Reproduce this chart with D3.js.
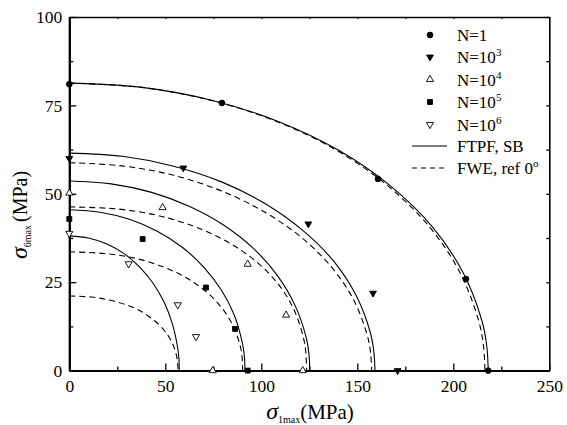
<!DOCTYPE html>
<html>
<head>
<meta charset="utf-8">
<script src="https://cdn.jsdelivr.net/npm/d3@7"></script>
<style>
  html, body { margin: 0; padding: 0; background: #fff; }
  svg { display: block; font-family: "Liberation Serif", "Times New Roman", serif; }
</style>
</head>
<body>
<svg id="chart" width="567" height="425"></svg>
<script>
// ---------- axis ticks ----------
const xTicks = [0, 50, 100, 150, 200, 250];
const xMinor = [25, 75, 125, 175, 225];
const yTicks = [0, 25, 50, 75, 100];
const yMinor = [12.5, 37.5, 62.5, 87.5];
const yRightTicks = [0, 12.5, 25, 37.5, 50, 62.5, 75, 87.5, 100];

// ---------- measured points (sigma_1max, sigma_6max) in MPa ----------
const ptsN1   = [[0, 81.0], [79.5, 75.7], [160.8, 54.2], [206.6, 25.9], [218.2, 0]];
const ptsN1e3 = [[0, 60.0], [59.4, 57.3], [124.5, 41.5], [158.2, 21.9], [171, 0]];
const ptsN1e4 = [[0, 50.2], [48.6, 46.1], [92.9, 30.1], [112.9, 15.7], [74.7, 0], [121.6, 0]];
const ptsN1e5 = [[0, 42.9], [38.2, 37.2], [71.2, 23.5], [86.3, 11.8], [92.9, 0]];
const ptsN1e6 = [[0, 38.8], [30.9, 30.2], [56.5, 18.6], [66.0, 9.6]];

// ---------- FTPF, SB criterion curves ----------
const ftpf1 = [[0, 81.3], [37.9, 80.1], [74.6, 76.4], [109.1, 70.4], [140.3, 62.3], [167.1, 52.3],
               [189.0, 40.7], [205.0, 27.8], [214.9, 14.1], [217.4, 7.1], [218.2, 0]];
const ftpf2 = [[0, 61.5], [27.6, 60.6], [54.4, 57.8], [79.6, 53.3], [102.3, 47.1], [121.9, 39.5],
               [137.9, 30.8], [149.6, 21.0], [156.8, 10.7], [158.6, 5.4], [159.2, 0]];
const ftpf3 = [[0, 53.6], [21.8, 52.8], [42.9, 50.4], [62.7, 46.4], [80.5, 41.1], [96.0, 34.5],
               [108.5, 26.8], [117.7, 18.3], [123.4, 9.3], [124.8, 4.7], [125.3, 0]];
const ftpf4 = [[0, 45.5], [15.9, 44.8], [31.3, 42.8], [45.8, 39.4], [58.8, 34.9], [70.1, 29.2],
               [79.2, 22.8], [86.0, 15.6], [90.1, 7.9], [91.2, 4.0], [91.5, 0]];
const ftpf5 = [[0, 38.1], [9.9, 37.5], [19.6, 35.8], [28.7, 33.0], [36.8, 29.2], [43.9, 24.5],
               [49.6, 19.1], [53.8, 13.0], [56.4, 6.6], [57.1, 3.3], [57.3, 0]];

// ---------- FWE (reference 0 deg) curves ----------
const fwe1 = [[0, 81.3], [37.6, 80.1], [74.0, 76.4], [108.3, 70.4], [139.2, 62.3], [165.8, 52.3],
              [187.5, 40.7], [203.4, 27.8], [213.2, 14.1], [215.7, 7.1], [216.5, 0]];
const fwe2 = [[0, 58.8], [27.3, 57.9], [53.9, 55.3], [78.8, 50.9], [101.2, 45.0], [120.6, 37.8],
              [136.4, 29.4], [148.0, 20.1], [155.1, 10.2], [156.9, 5.1], [157.5, 0]];
const fwe3 = [[0, 46.3], [25.2, 45.7], [46.6, 43.8], [65.8, 40.6], [82.7, 36.3], [97.0, 31.0],
              [108.5, 24.7], [116.8, 17.5], [121.9, 9.4], [123.2, 5.0], [123.6, 0]];
const fwe4 = [[0, 33.6], [18.4, 33.1], [34.1, 31.8], [48.1, 29.5], [60.4, 26.4], [70.9, 22.5],
              [79.2, 17.9], [85.3, 12.7], [89.1, 6.8], [90.0, 3.7], [90.3, 0]];
const fwe5 = [[0, 21.1], [11.5, 20.8], [21.3, 19.9], [30.1, 18.5], [37.9, 16.6], [44.4, 14.1],
              [49.7, 11.2], [53.5, 8.0], [55.8, 4.3], [56.4, 2.3], [56.6, 0]];

const ftpfCurves = [ftpf1, ftpf2, ftpf3, ftpf4, ftpf5];
const fweCurves  = [fwe1, fwe2, fwe3, fwe4, fwe5];

// ---------- layout ----------
const svg = d3.select("#chart");
const X0 = 69.3, X1 = 549.3, Y0 = 370.6, Y1 = 17;
const x = d3.scaleLinear().domain([0, 250]).range([X0, X1]);
const y = d3.scaleLinear().domain([0, 100]).range([Y0, Y1]);

const FONT = '"Liberation Serif", "Times New Roman", serif';

function styleAxis(g, width) {
  g.attr("font-family", FONT).attr("font-size", 17.5);
  g.selectAll(".domain").attr("stroke", "#000").attr("stroke-width", width);
  g.selectAll(".tick line").attr("stroke", "#000").attr("stroke-width", 1.3);
  g.selectAll(".tick text").attr("fill", "#000");
}

// bottom axis
svg.append("g").attr("transform", `translate(0,${Y0})`)
  .call(d3.axisBottom(x).tickValues(xTicks).tickSizeInner(-7).tickSizeOuter(0).tickPadding(9))
  .call(g => styleAxis(g, 2));
svg.append("g").attr("transform", `translate(0,${Y0})`)
  .call(d3.axisBottom(x).tickValues(xMinor).tickSizeInner(-4).tickSizeOuter(0).tickFormat(""))
  .call(g => styleAxis(g, 2));

// left axis
svg.append("g").attr("transform", `translate(${X0},0)`)
  .call(d3.axisLeft(y).tickValues(yTicks).tickSizeInner(-7).tickSizeOuter(0).tickPadding(7))
  .call(g => styleAxis(g, 2));
svg.append("g").attr("transform", `translate(${X0},0)`)
  .call(d3.axisLeft(y).tickValues(yMinor).tickSizeInner(-4).tickSizeOuter(0).tickFormat(""))
  .call(g => styleAxis(g, 2));

// right and top frame
svg.append("g").attr("transform", `translate(${X1},0)`)
  .call(d3.axisRight(y).tickValues(yRightTicks).tickSizeInner(-3).tickSizeOuter(0).tickFormat(""))
  .call(g => styleAxis(g, 1.6));
svg.append("g").attr("transform", `translate(0,${Y1})`)
  .call(d3.axisTop(x).tickValues(xMinor.concat(xTicks)).tickSizeInner(-2).tickSizeOuter(0).tickFormat(""))
  .call(g => styleAxis(g, 1.4));

// ---------- curves ----------
const line = d3.line().x(d => x(d[0])).y(d => y(d[1])).curve(d3.curveCatmullRom.alpha(0.5));

svg.append("g").selectAll("path.ftpf").data(ftpfCurves).join("path")
  .attr("class", "ftpf").attr("d", line)
  .attr("fill", "none").attr("stroke", "#000").attr("stroke-width", 1.1);

svg.append("g").selectAll("path.fwe").data(fweCurves).join("path")
  .attr("class", "fwe").attr("d", line)
  .attr("fill", "none").attr("stroke", "#000").attr("stroke-width", 1.1)
  .attr("stroke-dasharray", "6,4");

// ---------- markers ----------
const seriesStyles = [
  { pts: ptsN1,   type: d3.symbolCircle,   size: 26, rot: 0,   fill: "#000" },
  { pts: ptsN1e3, type: d3.symbolTriangle, size: 20, rot: 180, fill: "#000" },
  { pts: ptsN1e4, type: d3.symbolTriangle, size: 22, rot: 0,   fill: "#fff" },
  { pts: ptsN1e5, type: d3.symbolSquare,   size: 24, rot: 0,   fill: "#000" },
  { pts: ptsN1e6, type: d3.symbolTriangle, size: 22, rot: 180, fill: "#fff" }
];

seriesStyles.forEach(s => {
  svg.append("g").selectAll("path").data(s.pts).join("path")
    .attr("d", d3.symbol().type(s.type).size(s.size))
    .attr("transform", d => `translate(${x(d[0])},${y(d[1])}) rotate(${s.rot})`)
    .attr("fill", s.fill).attr("stroke", "#000").attr("stroke-width", 0.9);
});

// ---------- legend ----------
const legendLabels = [
  { base: "N=1", sup: "" },
  { base: "N=10", sup: "3" },
  { base: "N=10", sup: "4" },
  { base: "N=10", sup: "5" },
  { base: "N=10", sup: "6" }
];
const legendRows = [35, 57, 79.5, 102, 124.5, 146, 168];
const lg = svg.append("g").attr("font-family", FONT).attr("font-size", 17);

seriesStyles.forEach((s, i) => {
  lg.append("path")
    .attr("d", d3.symbol().type(s.type).size(s.size))
    .attr("transform", `translate(430,${legendRows[i]}) rotate(${s.rot})`)
    .attr("fill", s.fill).attr("stroke", "#000").attr("stroke-width", 0.9);
  const t = lg.append("text").attr("x", 457).attr("y", legendRows[i] + 6);
  t.append("tspan").text(legendLabels[i].base);
  if (legendLabels[i].sup) {
    t.append("tspan").attr("font-size", 11).attr("dy", -7).text(legendLabels[i].sup);
  }
});

lg.append("line").attr("x1", 412).attr("x2", 447)
  .attr("y1", legendRows[5]).attr("y2", legendRows[5])
  .attr("stroke", "#000").attr("stroke-width", 1.1);
lg.append("text").attr("x", 457).attr("y", legendRows[5] + 6).text("FTPF, SB");

lg.append("line").attr("x1", 412).attr("x2", 447)
  .attr("y1", legendRows[6]).attr("y2", legendRows[6])
  .attr("stroke", "#000").attr("stroke-width", 1.1).attr("stroke-dasharray", "5,4");
const fweText = lg.append("text").attr("x", 457).attr("y", legendRows[6] + 6);
fweText.append("tspan").text("FWE, ref 0");
fweText.append("tspan").attr("font-size", 11).attr("dy", -7).text("o");

// ---------- axis titles ----------
const xt = svg.append("text").attr("font-family", FONT)
  .attr("x", 310).attr("y", 419).attr("text-anchor", "middle").attr("fill", "#000");
xt.append("tspan").attr("font-size", 24).attr("font-style", "italic").text("σ");
xt.append("tspan").attr("font-size", 10).attr("dy", 4).text("1max");
xt.append("tspan").attr("font-size", 21).attr("dy", -4).text("(MPa)");

const yt = svg.append("text").attr("font-family", FONT)
  .attr("transform", "translate(27,215) rotate(-90)")
  .attr("text-anchor", "middle").attr("fill", "#000");
yt.append("tspan").attr("font-size", 24).attr("font-style", "italic").text("σ");
yt.append("tspan").attr("font-size", 10).attr("dy", 4).text("6max");
yt.append("tspan").attr("font-size", 20).attr("dy", -4).attr("dx", 3).text("(MPa)");
</script>
</body>
</html>
